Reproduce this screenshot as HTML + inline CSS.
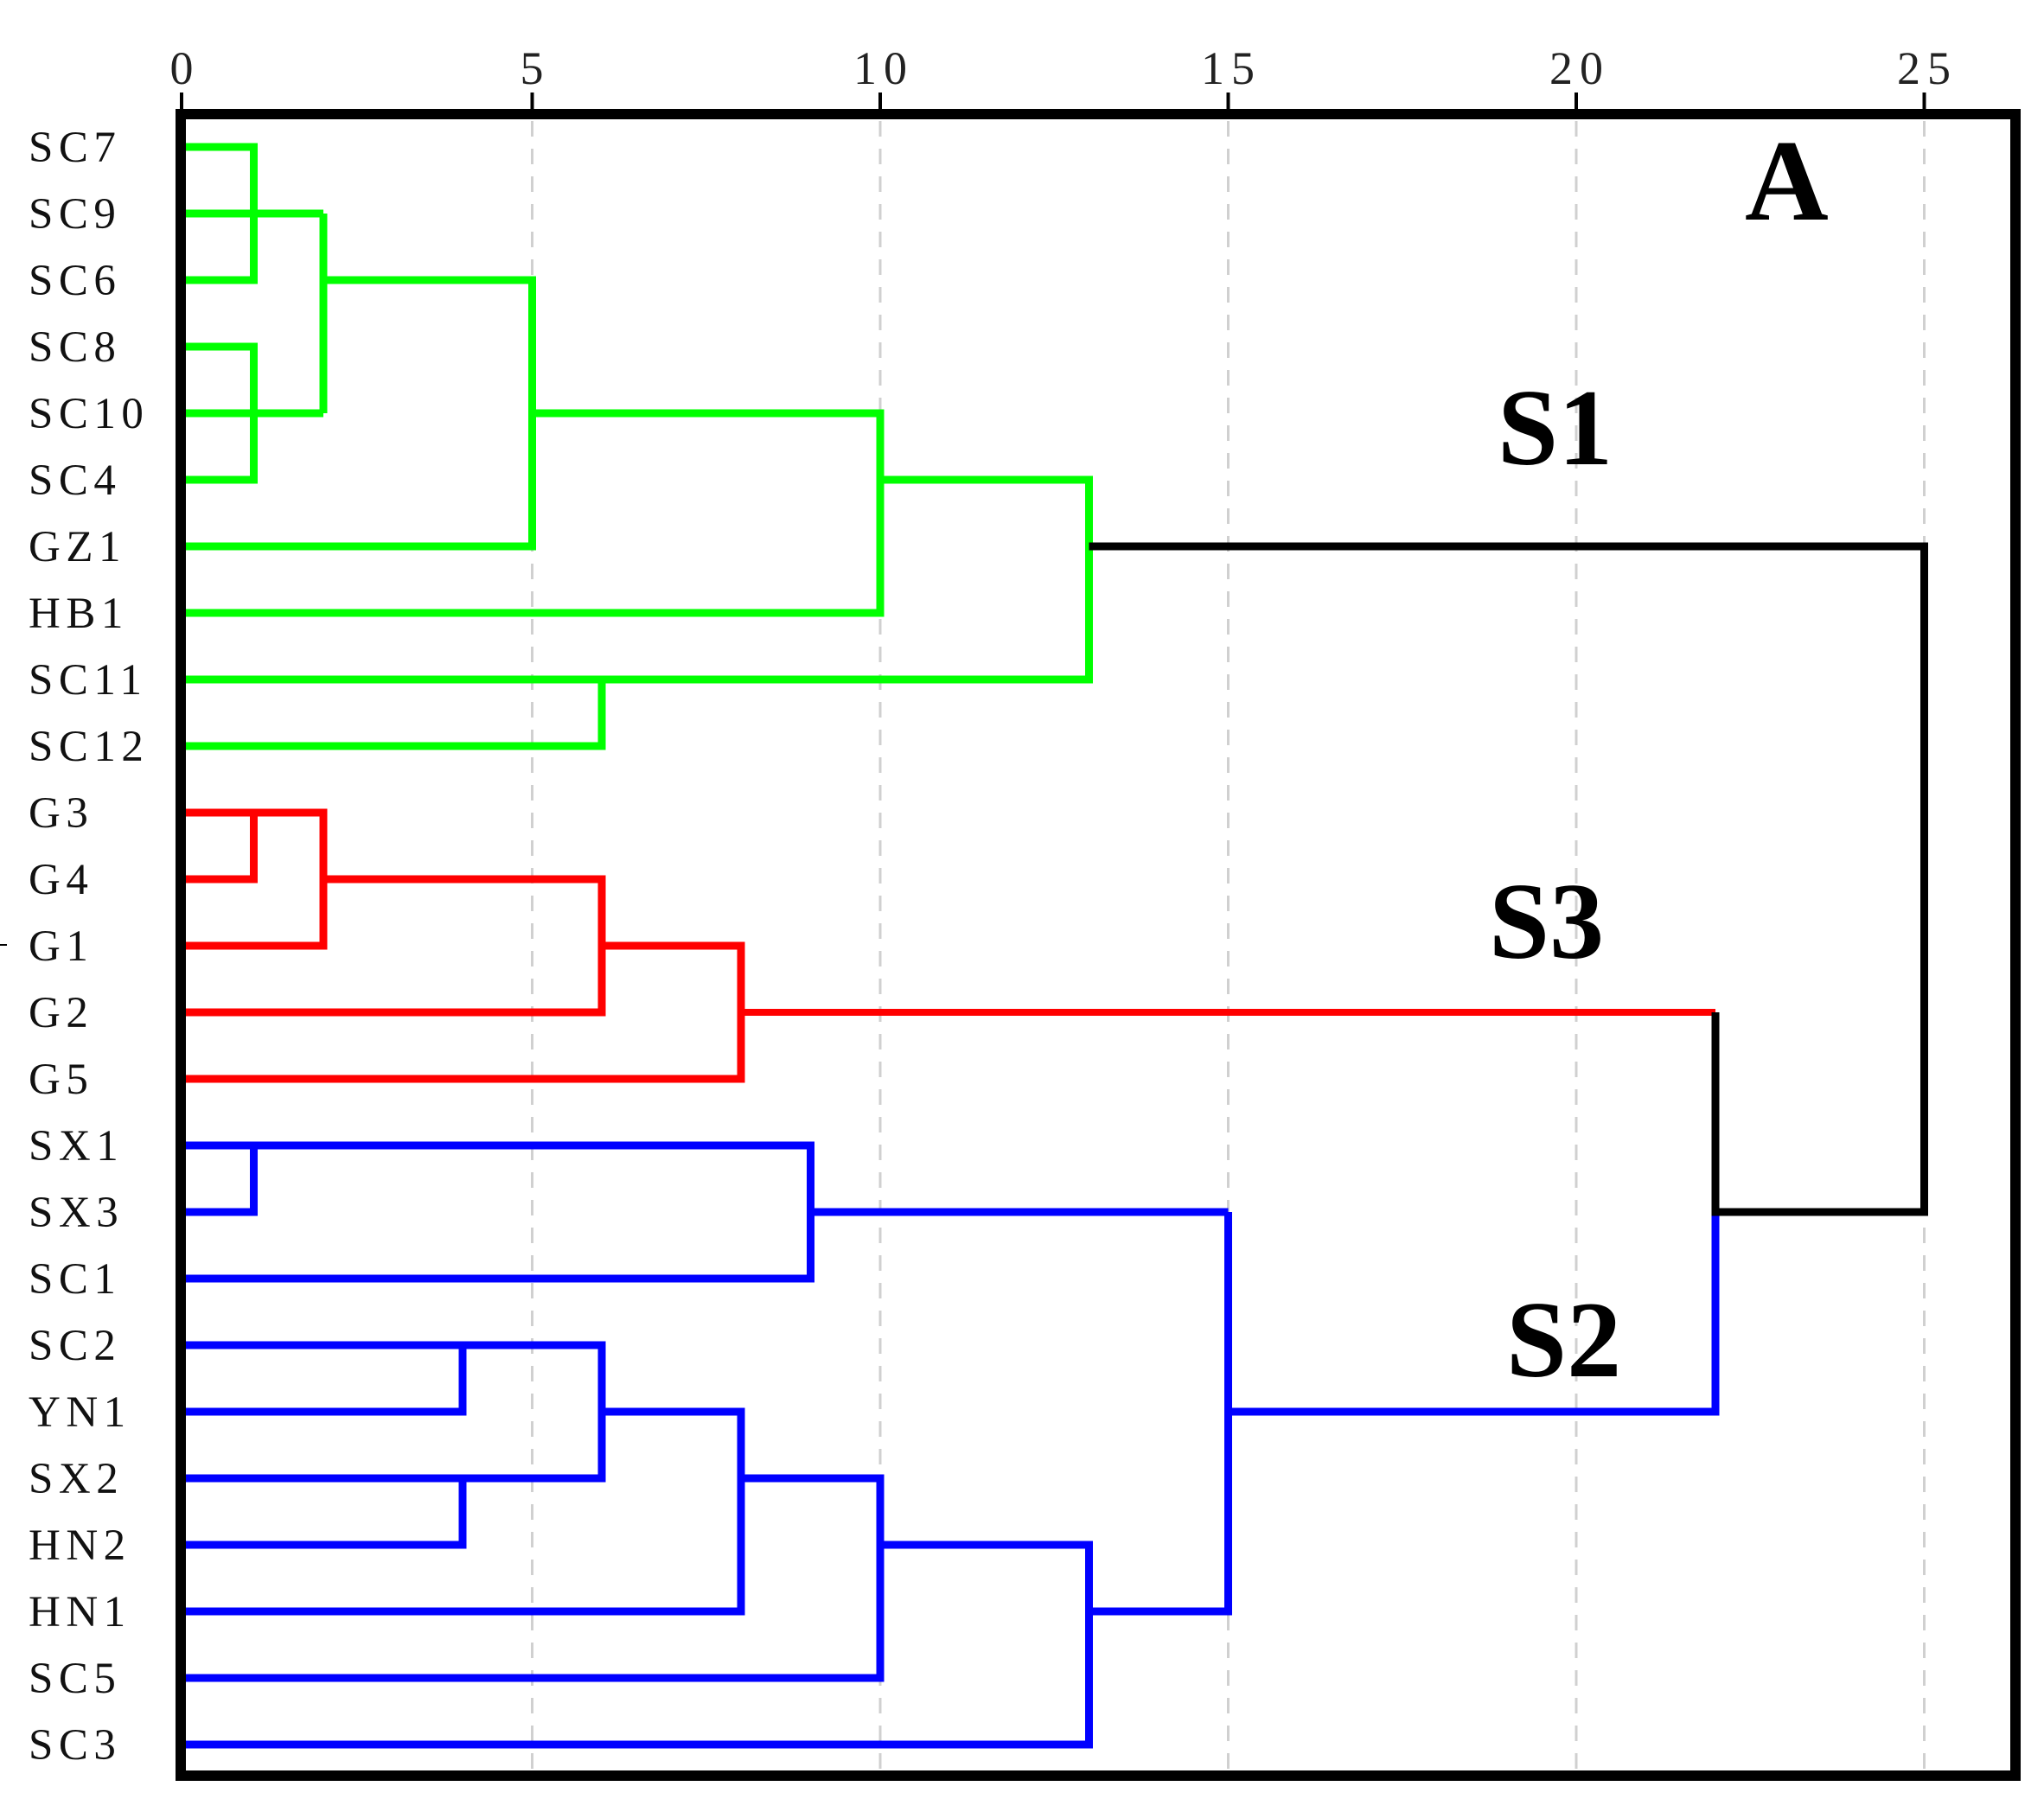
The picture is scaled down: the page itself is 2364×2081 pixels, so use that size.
<!DOCTYPE html>
<html><head><meta charset="utf-8"><style>html,body{margin:0;padding:0;background:#fff}svg{display:block}</style></head>
<body>
<svg xmlns="http://www.w3.org/2000/svg" width="2364" height="2081" viewBox="0 0 2364 2081">
<rect width="2364" height="2081" fill="#fff"/>
<g stroke="#d0d0d0" stroke-width="3" stroke-dasharray="18,14">
<line x1="615.5" y1="140" x2="615.5" y2="2052"/>
<line x1="1018" y1="140" x2="1018" y2="2052"/>
<line x1="1420.5" y1="140" x2="1420.5" y2="2052"/>
<line x1="1823" y1="140" x2="1823" y2="2052"/>
<line x1="2225.5" y1="140" x2="2225.5" y2="2052"/>
</g>
<g stroke="#000" stroke-width="4">
<line x1="210" y1="107" x2="210" y2="128"/>
<line x1="615.5" y1="107" x2="615.5" y2="128"/>
<line x1="1018" y1="107" x2="1018" y2="128"/>
<line x1="1420.5" y1="107" x2="1420.5" y2="128"/>
<line x1="1823" y1="107" x2="1823" y2="128"/>
<line x1="2225.5" y1="107" x2="2225.5" y2="128"/>
<line x1="0" y1="1093" x2="8" y2="1093" stroke-width="2"/>
</g>
<g font-family="Liberation Serif, serif" font-size="54" fill="#222" text-anchor="middle" letter-spacing="8">
<text x="214" y="97">0</text>
<text x="619" y="97">5</text>
<text x="1022" y="97">10</text>
<text x="1424" y="97">15</text>
<text x="1827" y="97">20</text>
<text x="2229" y="97">25</text>
</g>
<g font-family="Liberation Serif, serif" font-size="51" fill="#111" letter-spacing="6.5">
<text x="33" y="187">SC7</text>
<text x="33" y="264">SC9</text>
<text x="33" y="341">SC6</text>
<text x="33" y="418">SC8</text>
<text x="33" y="495">SC10</text>
<text x="33" y="572">SC4</text>
<text x="33" y="649">GZ1</text>
<text x="33" y="726">HB1</text>
<text x="33" y="803">SC11</text>
<text x="33" y="880">SC12</text>
<text x="33" y="957">G3</text>
<text x="33" y="1034">G4</text>
<text x="33" y="1111">G1</text>
<text x="33" y="1188">G2</text>
<text x="33" y="1265">G5</text>
<text x="33" y="1342">SX1</text>
<text x="33" y="1419">SX3</text>
<text x="33" y="1496">SC1</text>
<text x="33" y="1573">SC2</text>
<text x="33" y="1650">YN1</text>
<text x="33" y="1727">SX2</text>
<text x="33" y="1804">HN2</text>
<text x="33" y="1881">HN1</text>
<text x="33" y="1958">SC5</text>
<text x="33" y="2035">SC3</text>
</g>
<g fill="none" stroke="#00ff00" stroke-width="9">
<polyline points="213,170 293.5,170 293.5,324 213,324"/>
<polyline points="213,247 374,247"/>
<polyline points="213,401 293.5,401 293.5,555 213,555"/>
<polyline points="213,478 374,478"/>
<polyline points="374,247 374,478"/>
<polyline points="374,324 615.5,324 615.5,632 213,632"/>
<polyline points="615.5,478 1018,478 1018,709 213,709"/>
<polyline points="1018,555 1259.5,555 1259.5,786 213,786"/>
<polyline points="213,863 696,863 696,786"/>
</g>
<g fill="none" stroke="#ff0000" stroke-width="9">
<polyline points="213,940 374,940 374,1094 213,1094"/>
<polyline points="213,1017 293.5,1017 293.5,940"/>
<polyline points="374,1017 696,1017 696,1171 213,1171"/>
<polyline points="696,1094 857,1094 857,1248 213,1248"/>
<polyline points="857,1171 1984,1171" stroke-width="8"/>
</g>
<g fill="none" stroke="#0000ff" stroke-width="9">
<polyline points="213,1325 937.5,1325 937.5,1479 213,1479"/>
<polyline points="213,1402 293.5,1402 293.5,1325"/>
<polyline points="937.5,1402 1420.5,1402"/>
<polyline points="213,1556 696,1556 696,1710 213,1710"/>
<polyline points="213,1633 535,1633 535,1556"/>
<polyline points="213,1787 535,1787 535,1710"/>
<polyline points="696,1633 857,1633 857,1864 213,1864"/>
<polyline points="857,1710 1018,1710 1018,1941 213,1941"/>
<polyline points="1018,1787 1259.5,1787 1259.5,2018 213,2018"/>
<polyline points="1259.5,1864 1420.5,1864 1420.5,1402"/>
<polyline points="1420.5,1633 1984,1633 1984,1402"/>
</g>
<g fill="none" stroke="#000" stroke-width="9">
<polyline points="1259.5,632 2225.5,632 2225.5,1402 1984,1402 1984,1171"/>
</g>
<rect x="209" y="132" width="2122" height="1922" fill="none" stroke="#000" stroke-width="12"/>
<g font-family="Liberation Serif, serif" font-weight="bold" fill="#000">
<text x="2018" y="254" font-size="134">A</text>
<text x="1732" y="537" font-size="126">S1</text>
<text x="1722" y="1108" font-size="126">S3</text>
<text x="1742" y="1592" font-size="126">S2</text>
</g>
</svg>
</body></html>
